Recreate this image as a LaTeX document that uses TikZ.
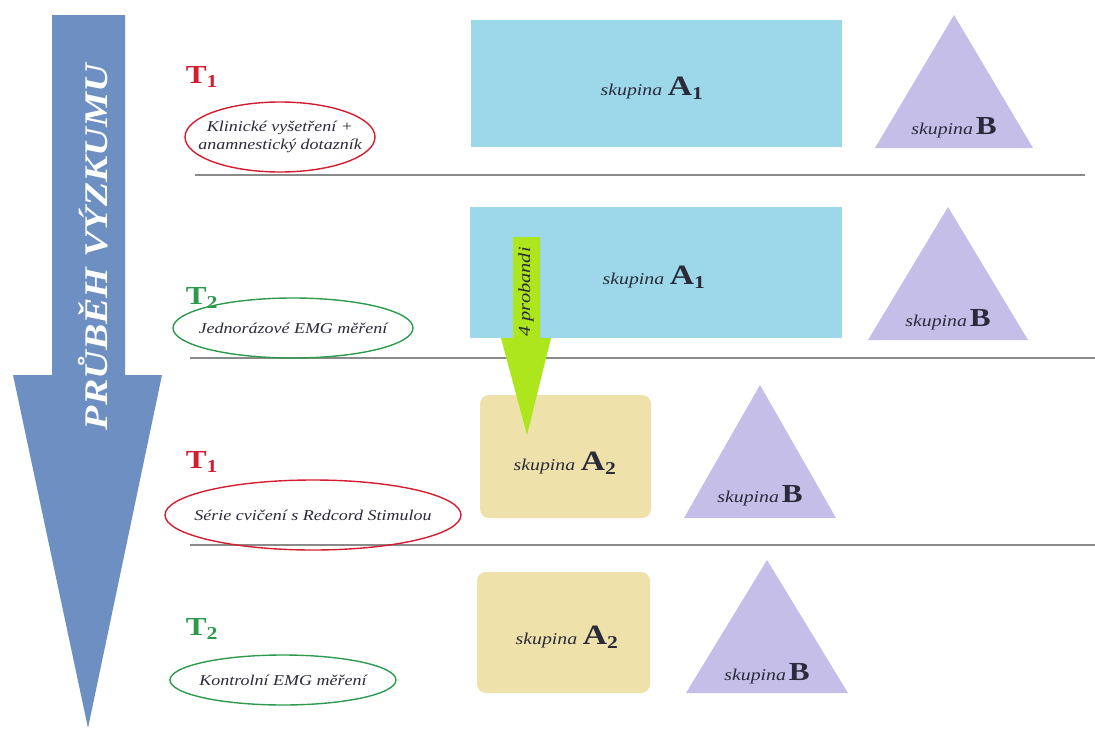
\documentclass[tikz,border=0pt]{standalone}
\usepackage{fontspec}
\setmainfont{Liberation Serif}[FakeStretch=1.2]
\usetikzlibrary{shapes.geometric}
\definecolor{bigarrow}{HTML}{6D8FC2}
\definecolor{rectblue}{HTML}{9CD8E9}
\definecolor{tan}{HTML}{EFE1AA}
\definecolor{lilac}{HTML}{C4BEE8}
\definecolor{lime}{HTML}{AEE61E}
\definecolor{tred}{HTML}{D21E30}
\definecolor{tgreen}{HTML}{2E9A4E}
\definecolor{sep}{HTML}{8A8A8A}
\definecolor{txt}{HTML}{2A2A3A}
\tikzset{
  tlabel/.style={font=\fontsize{26}{28}\selectfont\bfseries, inner sep=0pt},
  oval/.style={ellipse, draw, line width=1.4pt, inner sep=0pt},
  redoval/.style={oval, draw=tred},
  greenoval/.style={oval, draw=tgreen},
  ovaltext/.style={inner sep=0pt, font=\fontsize{15}{18}\selectfont\itshape, text=txt, align=center},
  sepline/.style={draw=sep, line width=1.3pt},
  grp/.style={font=\fontsize{16.5}{18}\selectfont, text=txt, inner sep=0pt},
}
\newcommand{\skA}[1]{\textit{skupina}\,\,{\fontsize{28}{30}\selectfont\bfseries A\textsubscript{\fontsize{18}{18}\selectfont #1}}}
\newcommand{\skB}{\textit{skupina}\,{\fontsize{26}{28}\selectfont\bfseries B}}
\begin{document}
\begin{tikzpicture}[x=1pt,y=-1pt]
\useasboundingbox (0,0) rectangle (1095,731);
\fill[white] (0,0) rectangle (1095,731);
% big arrow
\fill[bigarrow] (52,15) -- (125,15) -- (125,375) -- (162,375) -- (88,728) -- (13,375) -- (52,375) -- cycle;
\node[rotate=90, text=white, font=\fontsize{33}{35}\selectfont\bfseries\itshape, inner sep=0pt] (prubeh) at (93,247) {PRŮBĚH VÝZKUMU};
% separator lines
\coordinate (l1a) at (195,175); \coordinate (l1b) at (1085,175);
\coordinate (l2a) at (190,358); \coordinate (l2b) at (1095,358);
\coordinate (l3a) at (190,545); \coordinate (l3b) at (1095,545);
\draw[sepline] (l1a) -- (l1b);
\draw[sepline] (l2a) -- (l2b);
\draw[sepline] (l3a) -- (l3b);
% row 1
\node[tlabel, text=tred] (t1a) at (202,77) {T\textsubscript{1}};
\node[redoval, minimum width=190pt, minimum height=70pt] (e1) at (280,137) {};
\node[ovaltext] (e1t) at (e1.center) {Klinické vyšetření +\\anamnestický dotazník};
\fill[rectblue] (471,20) rectangle (842,147);
\node[grp] (a1a) at (652,88) {\skA{1}};
\fill[lilac] (875,148) -- (954,15) -- (1033,148) -- cycle;
\node[grp] (b1) at (954,128) {\skB};
% row 2
\node[tlabel, text=tgreen] (t2a) at (202,298) {T\textsubscript{2}};
\node[greenoval, minimum width=240pt, minimum height=60pt] (e2) at (293,328) {};
\node[ovaltext] (e2t) at (e2.center) {Jednorázové EMG měření};
\fill[rectblue] (470,207) rectangle (842,338);
\node[grp] (a1b) at (654,277) {\skA{1}};
\fill[lilac] (868,340) -- (948,207) -- (1028,340) -- cycle;
\node[grp] (b2) at (948,320) {\skB};
% row 3
\node[tlabel, text=tred] (t1b) at (202,462) {T\textsubscript{1}};
\node[redoval, minimum width=296pt, minimum height=70pt] (e3) at (313,515) {};
\node[ovaltext] (e3t) at (e3.center) {Série cvičení s Redcord Stimulou};
\fill[tan, rounded corners=9pt] (480,395) rectangle (651,518);
\node[grp] (a2a) at (565,463) {\skA{2}};
\fill[lilac] (684,518) -- (760,385) -- (836,518) -- cycle;
\node[grp] (b3) at (760,496) {\skB};
% row 4
\node[tlabel, text=tgreen] (t2b) at (202,629) {T\textsubscript{2}};
\node[greenoval, minimum width=226pt, minimum height=50pt] (e4) at (283,680) {};
\node[ovaltext] (e4t) at (e4.center) {Kontrolní EMG měření};
\fill[tan, rounded corners=9pt] (477,572) rectangle (650,693);
\node[grp] (a2b) at (567,637) {\skA{2}};
\fill[lilac] (686,693) -- (767,560) -- (848,693) -- cycle;
\node[grp] (b4) at (767,674) {\skB};
% green arrow
\fill[lime] (513,237) -- (540,237) -- (540,338) -- (551,338) -- (527,435) -- (501,338) -- (513,338) -- cycle;
\node[rotate=90, font=\fontsize{17}{19}\selectfont\itshape, text=txt, inner sep=0pt] (prob) at (526,292) {4 probandi};
\end{tikzpicture}
\end{document}
